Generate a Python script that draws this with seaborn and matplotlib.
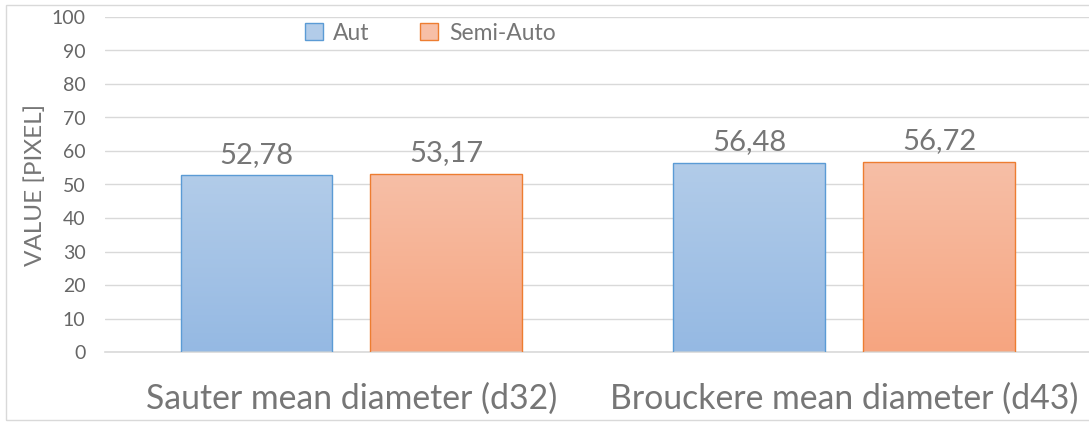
import matplotlib
matplotlib.use("Agg")
import matplotlib.pyplot as plt
import seaborn as sns
import pandas as pd
import numpy as np
from matplotlib.patches import Rectangle, Patch
from matplotlib.colors import LinearSegmentedColormap

categories = ["Sauter mean diameter (d32)", "Brouckere mean diameter (d43)"]
methods = ["Aut", "Semi-Auto"]
aut_values = [52.78, 56.48]
semi_values = [53.17, 56.72]
y_ticks = list(range(0, 101, 10))

df = pd.DataFrame({
    "category": categories * 2,
    "method": [methods[0]] * 2 + [methods[1]] * 2,
    "value": aut_values + semi_values,
})

edge_colors = {"Aut": "#5b9bd5", "Semi-Auto": "#ed7d31"}
grad_colors = {"Aut": ("#95b9e3", "#b2cce9"), "Semi-Auto": ("#f6a580", "#f7bfa7")}
text_gray = "#767676"

sns.set_theme(style="white")
plt.rcParams["font.family"] = ["Lato", "DejaVu Sans"]

W, H = 1089, 423
fig = plt.figure(figsize=(W / 100, H / 100), dpi=100)
ax = fig.add_axes([105 / W, (H - 352) / H, 985.5 / W, 335 / H])

sns.barplot(data=df, x="category", y="value", hue="method", order=categories,
            hue_order=methods, palette=[edge_colors[m] for m in methods],
            width=0.77, gap=0.2, ax=ax, legend=False)

ax.grid(axis="y", color="#d9d9d9", linewidth=1.0)
ax.set_axisbelow(True)
for s in ["top", "right", "left"]:
    ax.spines[s].set_visible(False)
ax.spines["bottom"].set_color("#d9d9d9")
ax.spines["bottom"].set_linewidth(1.2)

# gradient fill for each bar, value label on top
for container, m in zip(ax.containers, methods):
    cmap = LinearSegmentedColormap.from_list(m, grad_colors[m])
    for bar, val in zip(container.patches, df[df["method"] == m]["value"]):
        x0, w, h = bar.get_x(), bar.get_width(), bar.get_height()
        grad = np.linspace(0, 1, 256).reshape(-1, 1)
        img = ax.imshow(grad, cmap=cmap, origin="lower", aspect="auto",
                        extent=[x0, x0 + w, 0, h], zorder=2)
        img.set_clip_path(bar)
        bar.set_facecolor("none")
        bar.set_edgecolor(edge_colors[m])
        bar.set_linewidth(1.0)
        bar.set_zorder(3)
        ax.annotate(f"{val:.2f}".replace(".", ","), (x0 + w / 2, h),
                    xytext=(0, 9), textcoords="offset points",
                    ha="center", va="baseline", fontsize=21, color=text_gray)
ax.set_xlim(-0.5, 1.5)
ax.set_ylim(0, 100)
ax.set_yticks(y_ticks)

ax.tick_params(axis="y", labelsize=14, colors="#666666", pad=14, length=0)
ax.tick_params(axis="x", labelsize=24.3, colors=text_gray, pad=22, length=0)
ax.set_xlabel("")
ax.set_ylabel("VALUE [PIXEL]", fontsize=17.5, color=text_gray, labelpad=4)

handles = [Patch(facecolor=grad_colors[m][1], edgecolor=edge_colors[m], linewidth=1.0)
           for m in methods]
fig.legend(handles, methods, loc="center", bbox_to_anchor=(430 / W, (H - 33) / H),
           ncol=2, frameon=False, fontsize=16.5, labelcolor=text_gray,
           handlelength=0.8, handleheight=0.8, handletextpad=0.45, columnspacing=2.2)

fig.patches.append(Rectangle((6 / W, (H - 420) / H), 1.1, 415 / H, transform=fig.transFigure,
                             fill=False, edgecolor="#d9d9d9", linewidth=1.0))

fig.savefig("out.png", dpi=100)
